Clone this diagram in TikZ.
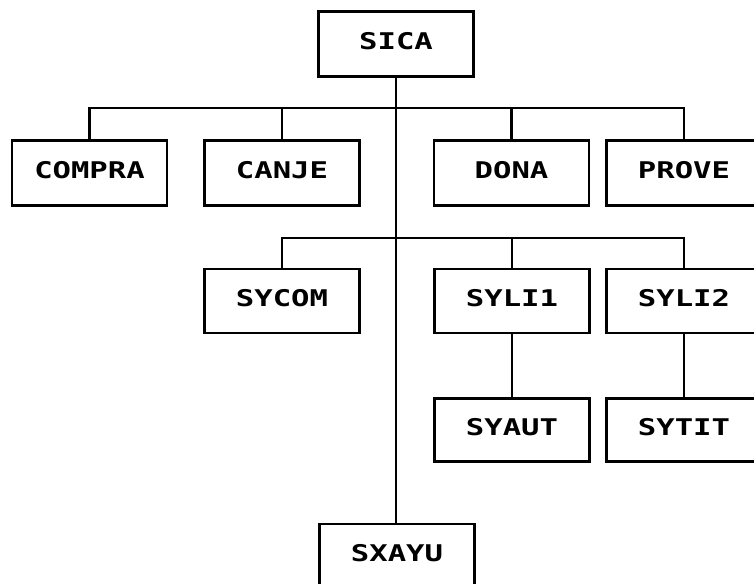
\documentclass[tikz,border=0pt]{standalone}
\usepackage{fontspec}
\newfontfamily\boxfont[FakeStretch=1.33]{DejaVu Sans Mono Bold}
\begin{document}
\begin{tikzpicture}[x=1pt,y=-1pt,
  modbox/.style={draw=black, line width=2.2pt, rectangle, inner sep=0pt, outer sep=0pt,
    minimum width=155pt, minimum height=65pt, text depth=7pt,
    font=\boxfont\fontsize{23}{23}\selectfont},
  link/.style={draw=black, line width=2.2pt}]
\useasboundingbox (0,0) rectangle (754,583);
\clip (0,0) rectangle (754,583);
\node[modbox] (sica)   at (396,44)  {SICA};
\node[modbox] (compra) at (89.5,173) {COMPRA};
\node[modbox] (canje)  at (282,173) {CANJE};
\node[modbox] (dona)   at (511.5,173) {DONA};
\node[modbox] (prove)  at (684,173) {PROVE};
\node[modbox, minimum height=64pt] (sycom)  at (282,301) {SYCOM};
\node[modbox, minimum height=64pt] (syli1)  at (512,301) {SYLI1};
\node[modbox, minimum height=64pt] (syli2)  at (684,301) {SYLI2};
\node[modbox, minimum height=63pt] (syaut)  at (512,430) {SYAUT};
\node[modbox, minimum height=63pt] (sytit)  at (684,430) {SYTIT};
\node[modbox, minimum height=64pt] (sxayu)  at (397,556) {SXAYU};
\coordinate (b1) at (396,108);
\coordinate (b2) at (396,238);
% trunk
\draw[link] (sica.south) -- (sica.south |- sxayu.north);
% first level bar
\draw[link] (compra.north) |- (prove.north |- b1) -- (prove.north);
\draw[link] (canje.north) -- (canje.north |- b1);
\draw[link] (dona.north) -- (dona.north |- b1);
% second level bar
\draw[link] (sycom.north) |- (syli2.north |- b2) -- (syli2.north);
\draw[link] (syli1.north) -- (syli1.north |- b2);
% third level
\draw[link] (syli1.south) -- (syaut.north);
\draw[link] (syli2.south) -- (sytit.north);
\end{tikzpicture}
\end{document}
